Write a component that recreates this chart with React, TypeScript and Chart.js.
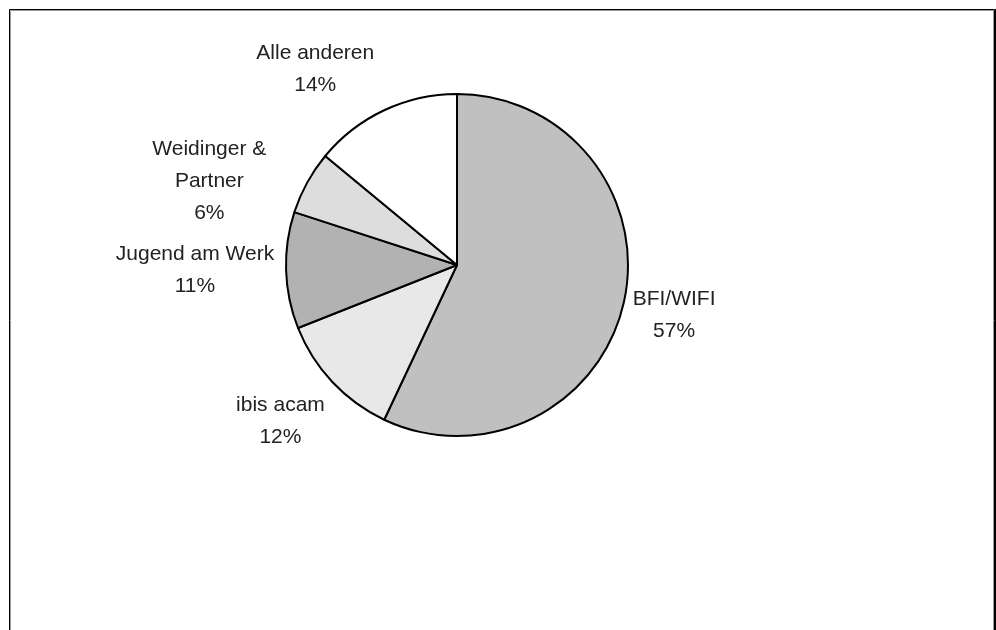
import React, { useEffect, useRef } from "react";
import { Chart, registerables } from "chart.js";

Chart.register(...registerables);

const categories: string[][] = [
  ["BFI/WIFI"],
  ["ibis acam"],
  ["Jugend am Werk"],
  ["Weidinger &", "Partner"],
  ["Alle anderen"],
];
const shares = [57, 12, 11, 6, 14];
const percentLabels = ["57%", "12%", "11%", "6%", "14%"];
const sliceColors = ["#c0c0c0", "#e8e8e8", "#b2b2b2", "#dddddd", "#ffffff"];
const labelNudges: [number, number][] = [
  [1, 4],
  [-13, 11],
  [-3, -1],
  [-40, 26],
  [-40, -4],
];

const FONT = '21px "Liberation Sans", Arial, sans-serif';
const LINE_H = 32;

const framePlugin = {
  id: "frame",
  beforeDraw(chart: any) {
    const { ctx, width, height } = chart;
    ctx.save();
    ctx.fillStyle = "#ffffff";
    ctx.fillRect(0, 0, width, height);
    ctx.lineWidth = 1;
    ctx.strokeStyle = "#000000";
    ctx.beginPath();
    ctx.moveTo(9.5, height + 5);
    ctx.lineTo(9.5, 9.5);
    ctx.lineTo(994.5, 9.5);
    ctx.lineTo(994.5, height + 5);
    ctx.moveTo(995.5, 9);
    ctx.lineTo(995.5, height + 5);
    ctx.stroke();
    ctx.strokeStyle = "#9a9a9a";
    ctx.beginPath();
    ctx.moveTo(10.5, height + 5);
    ctx.lineTo(10.5, 10.5);
    ctx.lineTo(993.5, 10.5);
    ctx.lineTo(993.5, height + 5);
    ctx.stroke();
    ctx.restore();
  },
};

const labelPlugin = {
  id: "sliceLabels",
  afterDatasetsDraw(chart: any) {
    const { ctx } = chart;
    const meta = chart.getDatasetMeta(0);
    ctx.save();
    ctx.font = FONT;
    ctx.fillStyle = "#222222";
    ctx.textAlign = "center";
    ctx.textBaseline = "middle";
    meta.data.forEach((arc: any, i: number) => {
      const p = arc.getProps(["x", "y", "startAngle", "endAngle", "outerRadius"], true);
      const mid = (p.startAngle + p.endAngle) / 2;
      const dx = Math.cos(mid);
      const dy = Math.sin(mid);
      const lines = [...categories[i], percentLabels[i]];
      const w = Math.max(...lines.map((l) => ctx.measureText(l).width));
      const h = lines.length * LINE_H;
      const gap = 9;
      const ax = p.x + dx * (p.outerRadius + gap);
      const ay = p.y + dy * (p.outerRadius + gap);
      const cx = ax + (dx * w) / 2 + labelNudges[i][0];
      const cy = ay + (dy * h) / 2 + labelNudges[i][1];
      const top = cy - h / 2 + LINE_H / 2;
      lines.forEach((l, k) => ctx.fillText(l, cx, top + k * LINE_H));
    });
    ctx.restore();
  },
};

export default function App() {
  const ref = useRef<HTMLCanvasElement>(null);
  useEffect(() => {
    const c = ref.current;
    if (!c) return;
    const chart = new Chart(c, {
      type: "pie",
      data: {
        labels: categories.map((c) => c.join(" ")),
        datasets: [
          {
            data: shares,
            backgroundColor: sliceColors,
            borderColor: "#000000",
            borderWidth: 2,
          },
        ],
      },
      options: {
        responsive: false,
        animation: false,
        devicePixelRatio: 1,
        layout: { padding: { top: 93, bottom: 193, left: 285, right: 367 } },
        plugins: {
          legend: { display: false },
          tooltip: { enabled: false },
          title: { display: false },
        },
      },
      plugins: [framePlugin, labelPlugin],
    });
    return () => chart.destroy();
  }, []);
  return (
    <div style={{ position: "fixed", left: 0, top: 0, width: 996, height: 630, background: "#fff" }}>
      <canvas ref={ref} width={996} height={630} style={{ display: "block" }} />
    </div>
  );
}
